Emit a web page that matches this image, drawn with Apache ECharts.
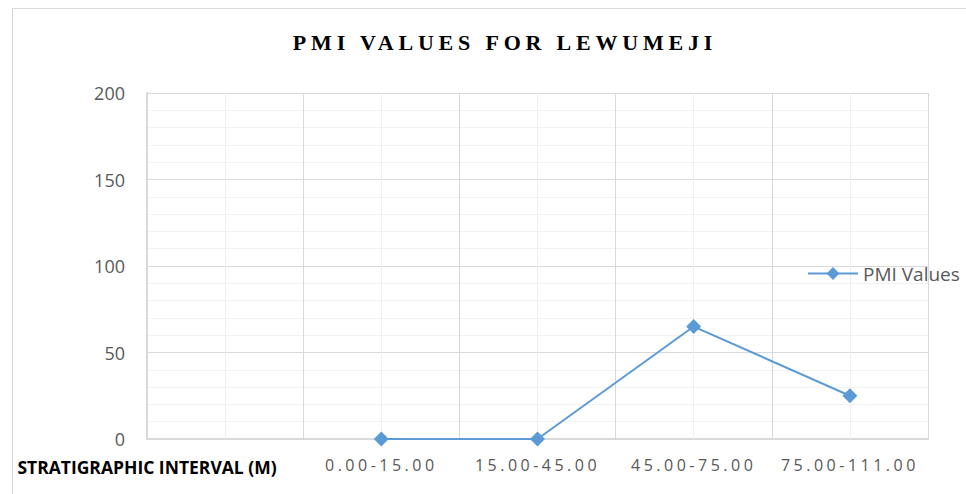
<!DOCTYPE html>
<html lang="en">
<head>
    <meta charset="UTF-8">
    <title>PMI Values for Lewumeji</title>
    <script src="https://cdn.jsdelivr.net/npm/echarts@6/dist/echarts.min.js"></script>
    <style>
        html, body { margin: 0; padding: 0; background: #fff; overflow: hidden; }
        .frame { position: absolute; left: 12px; top: 8px; width: 1000px; height: 600px;
                 border-left: 1px solid #d9d9d9; border-top: 1px solid #d9d9d9; }
        .main { position: absolute; left: 0; top: 0; width: 966px; height: 494px; }
    </style>
</head>
<body>
    <div class="frame"></div>
    <div id="main" class="main"></div>
    <script>
        // data
        var intervals = ['0.00-15.00', '15.00-45.00', '45.00-75.00', '75.00-111.00'];
        var pmiValues = [0, 0, 65, 25];
        var yMin = 0, yMax = 200, yStep = 50;

        var gray = '#595959';
        var blue = '#5b9bd5';

        var myChart = echarts.init(document.getElementById('main'), null, { renderer: 'svg' });
        var option = {
            backgroundColor: 'transparent',
            animation: false,
            title: {
                text: 'PMI VALUES FOR LEWUMEJI',
                left: 500,
                top: 26,
                textAlign: 'center',
                textStyle: {
                    fontFamily: 'Liberation Serif',
                    fontWeight: 'bold',
                    fontSize: 22,
                    color: '#000'
                }
            },
            legend: {
                left: 802,
                top: 259,
                itemWidth: 50,
                itemHeight: 16,
                data: ['PMI Values'],
                textStyle: { fontFamily: 'Open Sans', fontSize: 19, color: gray }
            },
            grid: { left: 147, right: 38, top: 93, bottom: 55, outerBoundsMode: 'none', containLabel: false },
            xAxis: {
                type: 'category',
                boundaryGap: true,
                data: [''].concat(intervals),
                name: 'STRATIGRAPHIC INTERVAL (M)',
                nameLocation: 'start',
                nameGap: 0,
                nameMoveOverlap: false,
                nameTextStyle: {
                    fontFamily: 'Open Sans',
                    fontWeight: 'bold',
                    fontSize: 17.5,
                    color: '#000',
                    align: 'center',
                    verticalAlign: 'top',
                    lineHeight: 56
                },
                axisLine: { lineStyle: { color: '#d9d9d9', width: 2 } },
                axisTick: {
                    show: true,
                    alignWithLabel: true,
                    inside: true,
                    length: 346,
                    lineStyle: { color: '#efefef' }
                },
                splitLine: { show: true, lineStyle: { color: '#d9d9d9' } },
                axisLabel: {
                    margin: 18,
                    hideOverlap: false,
                    fontFamily: 'Open Sans',
                    fontSize: 16,
                    color: gray
                }
            },
            yAxis: {
                type: 'value',
                min: yMin,
                max: yMax,
                interval: yStep,
                axisLine: { show: true, lineStyle: { color: '#d9d9d9', width: 2 } },
                axisTick: { show: false },
                splitLine: { lineStyle: { color: '#d9d9d9' } },
                minorTick: { show: false, splitNumber: 5 },
                minorSplitLine: { show: true, lineStyle: { color: '#f2f2f2' } },
                axisLabel: {
                    margin: 22,
                    fontFamily: 'Open Sans',
                    fontSize: 18,
                    color: gray
                }
            },
            series: [
                {
                    name: 'PMI Values',
                    type: 'line',
                    data: ['-'].concat(pmiValues),
                    symbol: 'diamond',
                    symbolSize: 15,
                    itemStyle: { color: blue },
                    lineStyle: { color: blue, width: 2 }
                }
            ]
        };
        myChart.setOption(option);

        // spread the letters like the original (title and interval labels)
        function spaceLetters() {
            var texts = document.querySelectorAll('#main text');
            texts.forEach(function (t) {
                var s = t.textContent;
                if (s === 'PMI VALUES FOR LEWUMEJI') {
                    t.style.letterSpacing = '4.8px';
                } else if (intervals.indexOf(s) >= 0) {
                    t.style.letterSpacing = '3.5px';
                }
            });
        }
        myChart.on('finished', spaceLetters);
        spaceLetters();
    </script>
</body>
</html>
